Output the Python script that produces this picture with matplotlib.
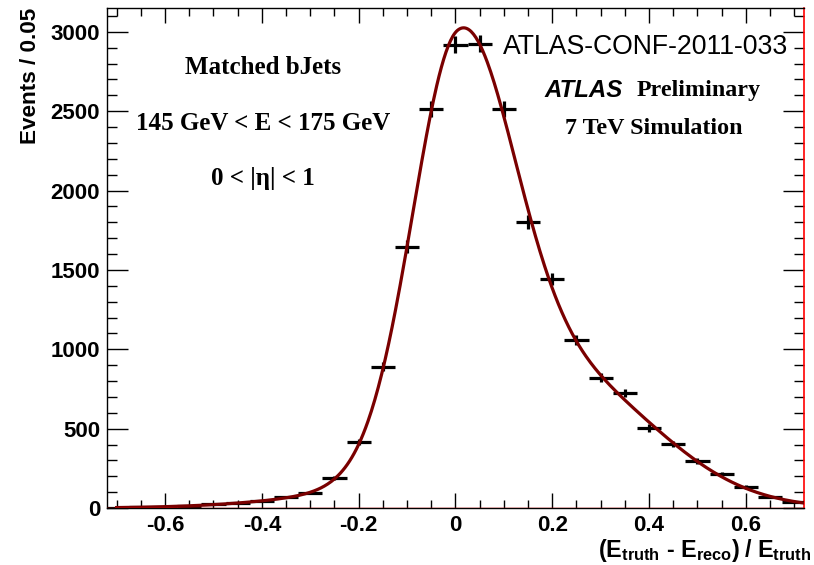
import numpy as np
import matplotlib
matplotlib.use("Agg")
import matplotlib.pyplot as plt
from matplotlib.ticker import MultipleLocator, FormatStrFormatter

plt.rcParams["font.family"] = ["Liberation Sans", "DejaVu Sans"]
plt.rcParams["axes.unicode_minus"] = False
plt.rcParams["mathtext.fontset"] = "custom"
plt.rcParams["mathtext.rm"] = "Liberation Sans:bold"
plt.rcParams["mathtext.bf"] = "Liberation Sans:bold"
plt.rcParams["mathtext.it"] = "Liberation Sans:bold"

# Binned response (E_truth - E_reco)/E_truth, bin width 0.05
bin_centers = [-0.70, -0.65, -0.60, -0.55, -0.50, -0.45, -0.40, -0.35, -0.30,
               -0.25, -0.20, -0.15, -0.10, -0.05, 0.00, 0.05, 0.10, 0.15,
               0.20, 0.25, 0.30, 0.35, 0.40, 0.45, 0.50, 0.55, 0.60, 0.65, 0.70]
events = [3, 5, 8, 14, 22, 30, 45, 70, 97,
          190, 416, 890, 1645, 2512, 2918, 2925, 2512, 1802,
          1440, 1060, 820, 725, 504, 403, 296, 214, 133, 69, 38]
bin_width = 0.05

x_range = (-0.72, 0.72)
y_range = (0, 3150)

x = np.asarray(bin_centers, float)
y = np.asarray(events, float)
err = np.sqrt(y)


def response_shape(t, p):
    """Asymmetric core plus two broad Gaussian tails."""
    a1, m1, sl, sr, a2, m2, s2, a3, m3, s3 = p
    s = np.where(t < m1, abs(sl), abs(sr))
    core = abs(a1) * np.exp(-0.5 * ((t - m1) / s) ** 2)
    right = abs(a2) * np.exp(-0.5 * ((t - m2) / s2) ** 2)
    left = abs(a3) * np.exp(-0.5 * ((t - m3) / s3) ** 2)
    return core + right + left


# Bin-averaged prediction, so the fit compares like with like
_sub = np.linspace(-0.5, 0.5, 11) * bin_width


def binned_shape(t, p):
    return response_shape(t[:, None] + _sub[None, :], p).mean(axis=1)


def fit_levenberg_marquardt(f, p0, t, obs, sig, n_iter=400):
    p = np.array(p0, float)
    lam = 1e-3

    def resid(q):
        return (f(t, q) - obs) / sig

    r = resid(p)
    cost = r @ r
    for _ in range(n_iter):
        J = np.empty((t.size, p.size))
        for k in range(p.size):
            h = 1e-6 * max(abs(p[k]), 1e-3)
            dp = np.zeros_like(p)
            dp[k] = h
            J[:, k] = (resid(p + dp) - r) / h
        A = J.T @ J
        g = J.T @ r
        improved = False
        while lam < 1e12:
            try:
                step = np.linalg.solve(A + lam * np.diag(np.diag(A) + 1e-12), -g)
            except np.linalg.LinAlgError:
                lam *= 10
                continue
            r_new = resid(p + step)
            c_new = r_new @ r_new
            if np.isfinite(c_new) and c_new < cost:
                p = p + step
                r = r_new
                improved = abs(cost - c_new) > 1e-10 * cost
                cost = c_new
                lam = max(lam * 0.3, 1e-12)
                break
            lam *= 10
        if not improved:
            break
    return p


p_start = [2500, 0.02, 0.105, 0.085, 700, 0.2, 0.2, 60, -0.3, 0.12]
p_fit = fit_levenberg_marquardt(binned_shape, p_start, x, y, np.sqrt(y + 1.0))

fig = plt.figure(figsize=(8.14, 5.65), dpi=100)
ax = fig.add_axes([0.1314, 0.1009, 0.8563, 0.8849])

ax.errorbar(x, y, xerr=bin_width / 2, yerr=err, fmt="none", ecolor="black",
            elinewidth=2.3, capsize=0, zorder=3)

xc = np.linspace(x[0], x_range[1], 600)
ax.plot(xc, response_shape(xc, p_fit), color="#7a0000", lw=2.3, zorder=4)

ax.axhline(0, color="red", lw=1.0, zorder=5)

ax.set_xlim(*x_range)
ax.set_ylim(*y_range)

ax.xaxis.set_major_locator(MultipleLocator(0.2))
ax.xaxis.set_minor_locator(MultipleLocator(0.05))
ax.yaxis.set_major_locator(MultipleLocator(500))
ax.yaxis.set_minor_locator(MultipleLocator(100))
ax.xaxis.set_major_formatter(FormatStrFormatter("%g"))
ax.yaxis.set_major_formatter(FormatStrFormatter("%d"))

ax.tick_params(axis="both", which="both", direction="in", top=True, right=True,
               width=1.0, color="black")
ax.tick_params(axis="x", which="major", length=11, pad=5)
ax.tick_params(axis="x", which="minor", length=5.5)
ax.tick_params(axis="y", which="major", length=15, pad=5)
ax.tick_params(axis="y", which="minor", length=7.5)
for lbl in ax.get_xticklabels() + ax.get_yticklabels():
    lbl.set_fontsize(16)
    lbl.set_fontweight("bold")

for side in ("left", "top", "bottom"):
    ax.spines[side].set_linewidth(1.0)
    ax.spines[side].set_color("black")
ax.spines["right"].set_color("red")
ax.spines["right"].set_linewidth(1.2)

ax.set_ylabel("Events / 0.05", fontsize=16.2, fontweight="bold", loc="top")
ax.yaxis.set_label_coords(-0.094, 1.0)

fig.text(0.997, 0.015,
         r"$\mathbf{(E_{truth}}$ - $\mathbf{E_{reco})\;/\;E_{truth}}$",
         ha="right", va="baseline", fontsize=16.8, fontweight="bold")

serif = ["Liberation Serif", "DejaVu Serif"]
ax.text(0.224, 0.882, "Matched bJets", transform=ax.transAxes, ha="center",
        va="center", fontsize=18, fontweight="bold", family=serif)
ax.text(0.224, 0.770, "145 GeV < E < 175 GeV", transform=ax.transAxes,
        ha="center", va="center", fontsize=18, fontweight="bold", family=serif)
ax.text(0.224, 0.660, "0 < |\u03b7| < 1", transform=ax.transAxes, ha="center",
        va="center", fontsize=18, fontweight="bold", family=serif)

ax.text(0.977, 0.922, "ATLAS-CONF-2011-033", transform=ax.transAxes,
        ha="right", va="center", fontsize=19.2)
ax.text(0.628, 0.836, "ATLAS", transform=ax.transAxes, ha="left", va="center",
        fontsize=17.3, fontweight="bold", fontstyle="italic")
ax.text(0.760, 0.836, "Preliminary", transform=ax.transAxes, ha="left",
        va="center", fontsize=17.3, fontweight="bold", family=serif)
ax.text(0.785, 0.760, "7 TeV Simulation", transform=ax.transAxes, ha="center",
        va="center", fontsize=17.3, fontweight="bold", family=serif)

fig.savefig("out.png", dpi=100)
